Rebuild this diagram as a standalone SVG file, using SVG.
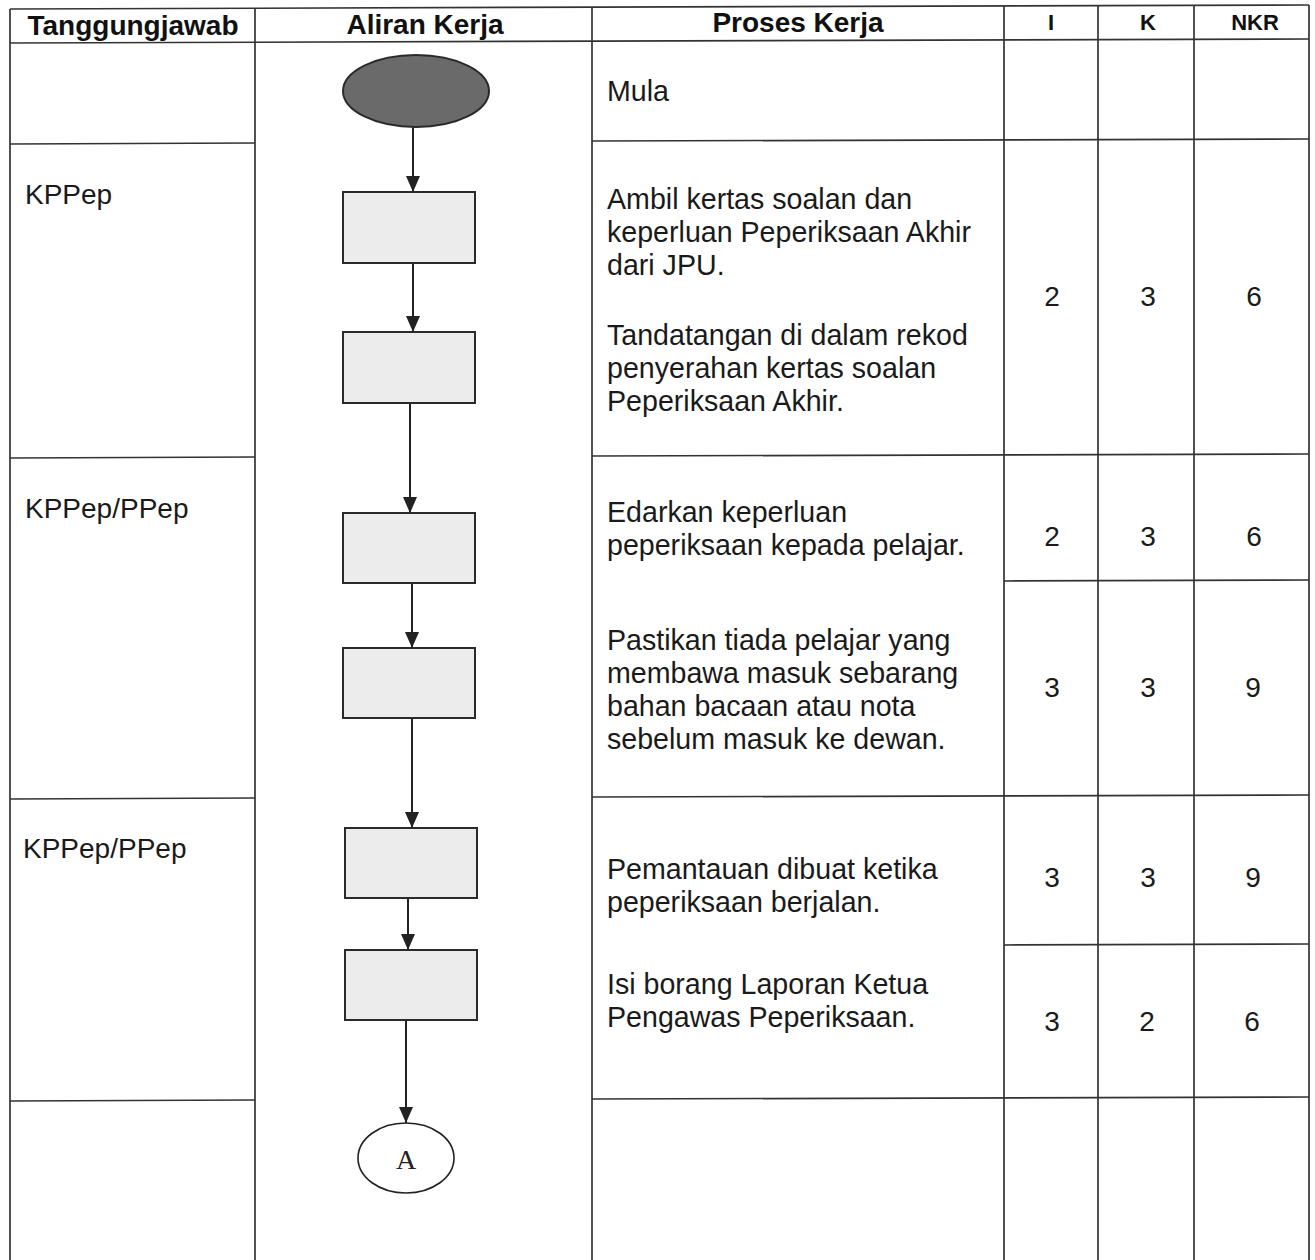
<svg xmlns="http://www.w3.org/2000/svg" width="1315" height="1260" viewBox="0 0 1315 1260">
<defs>
<style>
.grid{stroke:#333;stroke-width:1.7;fill:none}
.hd{font-family:"Liberation Sans",Arial,sans-serif;font-weight:bold;font-size:28px;fill:#111}
.hs{font-family:"Liberation Sans",Arial,sans-serif;font-weight:bold;font-size:22px;fill:#111}
.tx{font-family:"Liberation Sans",Arial,sans-serif;font-size:28px;fill:#1a1a1a}
.px{font-family:"Liberation Sans",Arial,sans-serif;font-size:28.6px;fill:#1a1a1a}
.num{font-family:"Liberation Sans",Arial,sans-serif;font-size:28px;fill:#1a1a1a;text-anchor:middle}
.box{fill:#ececec;stroke:#2a2a2a;stroke-width:2}
.conn{stroke:#222;stroke-width:2;fill:none}
</style>
<marker id="arr" viewBox="0 0 16 14" refX="16" refY="7" markerWidth="16" markerHeight="14" markerUnits="userSpaceOnUse" orient="auto">
<path d="M0,0 L16,7 L0,14 Z" fill="#222"/>
</marker>
</defs>
<rect x="0" y="0" width="1315" height="1260" fill="#ffffff"/>

<g id="table">
<line class="grid" x1="10" y1="9" x2="1309" y2="5"/>
<line class="grid" x1="10" y1="43" x2="1309" y2="39"/>
<line class="grid" x1="10" y1="9" x2="10" y2="1260"/>
<line class="grid" x1="255" y1="8" x2="255" y2="1260"/>
<line class="grid" x1="592" y1="7" x2="592" y2="1260"/>
<line class="grid" x1="1004" y1="6" x2="1004" y2="1260"/>
<line class="grid" x1="1098" y1="6" x2="1098" y2="1260"/>
<line class="grid" x1="1194" y1="5" x2="1194" y2="1260"/>
<line class="grid" x1="1309" y1="5" x2="1309" y2="1260"/>
<line class="grid" x1="10" y1="144" x2="255" y2="143"/>
<line class="grid" x1="10" y1="458" x2="255" y2="457"/>
<line class="grid" x1="10" y1="799" x2="255" y2="798"/>
<line class="grid" x1="10" y1="1101" x2="255" y2="1100"/>
<line class="grid" x1="592" y1="141" x2="1309" y2="139"/>
<line class="grid" x1="592" y1="456" x2="1309" y2="454"/>
<line class="grid" x1="592" y1="797" x2="1309" y2="795"/>
<line class="grid" x1="592" y1="1099" x2="1309" y2="1097"/>
<line class="grid" x1="1004" y1="581" x2="1309" y2="580"/>
<line class="grid" x1="1004" y1="945" x2="1309" y2="944"/>
</g>

<g id="headers">
<text class="hd" x="133" y="35" text-anchor="middle">Tanggungjawab</text>
<text class="hd" x="425" y="34" text-anchor="middle">Aliran Kerja</text>
<text class="hd" x="798" y="32" text-anchor="middle">Proses Kerja</text>
<text class="hs" x="1051" y="30" text-anchor="middle">I</text>
<text class="hs" x="1148" y="30" text-anchor="middle">K</text>
<text class="hs" x="1255" y="30" text-anchor="middle">NKR</text>
</g>

<g id="responsibility">
<text class="tx" x="25" y="204">KPPep</text>
<text class="tx" x="25" y="518">KPPep/PPep</text>
<text class="tx" x="23" y="858">KPPep/PPep</text>
</g>

<g id="process">
<text class="px" x="607" y="101">Mula</text>
<text class="px" x="607" y="209">Ambil kertas soalan dan</text>
<text class="px" x="607" y="242">keperluan Peperiksaan Akhir</text>
<text class="px" x="607" y="275">dari JPU.</text>
<text class="px" x="607" y="345">Tandatangan di dalam rekod</text>
<text class="px" x="607" y="378">penyerahan kertas soalan</text>
<text class="px" x="607" y="411">Peperiksaan Akhir.</text>
<text class="px" x="607" y="522">Edarkan keperluan</text>
<text class="px" x="607" y="555">peperiksaan kepada pelajar.</text>
<text class="px" x="607" y="650">Pastikan tiada pelajar yang</text>
<text class="px" x="607" y="683">membawa masuk sebarang</text>
<text class="px" x="607" y="716">bahan bacaan atau nota</text>
<text class="px" x="607" y="749">sebelum masuk ke dewan.</text>
<text class="px" x="607" y="879">Pemantauan dibuat ketika</text>
<text class="px" x="607" y="912">peperiksaan berjalan.</text>
<text class="px" x="607" y="994">Isi borang Laporan Ketua</text>
<text class="px" x="607" y="1027">Pengawas Peperiksaan.</text>
</g>

<g id="scores">
<text class="num" x="1052" y="306">2</text>
<text class="num" x="1148" y="306">3</text>
<text class="num" x="1254" y="306">6</text>
<text class="num" x="1052" y="546">2</text>
<text class="num" x="1148" y="546">3</text>
<text class="num" x="1254" y="546">6</text>
<text class="num" x="1052" y="697">3</text>
<text class="num" x="1148" y="697">3</text>
<text class="num" x="1253" y="697">9</text>
<text class="num" x="1052" y="887">3</text>
<text class="num" x="1148" y="887">3</text>
<text class="num" x="1253" y="887">9</text>
<text class="num" x="1052" y="1031">3</text>
<text class="num" x="1147" y="1031">2</text>
<text class="num" x="1252" y="1031">6</text>
</g>

<g id="connectors">
<line class="conn" x1="413" y1="127" x2="413" y2="192" marker-end="url(#arr)"/>
<line class="conn" x1="413" y1="263" x2="413" y2="332" marker-end="url(#arr)"/>
<line class="conn" x1="410" y1="403" x2="410" y2="513" marker-end="url(#arr)"/>
<line class="conn" x1="412" y1="583" x2="412" y2="648" marker-end="url(#arr)"/>
<line class="conn" x1="412" y1="718" x2="412" y2="828" marker-end="url(#arr)"/>
<line class="conn" x1="408" y1="898" x2="408" y2="950" marker-end="url(#arr)"/>
<line class="conn" x1="406" y1="1020" x2="406" y2="1123" marker-end="url(#arr)"/>
</g>

<g id="start">
<ellipse cx="416" cy="91" rx="73" ry="36" fill="#6a6a6a" stroke="#2a2a2a" stroke-width="2"/>
</g>
<g id="step1"><rect class="box" x="343" y="192" width="132" height="71"/></g>
<g id="step2"><rect class="box" x="343" y="332" width="132" height="71"/></g>
<g id="step3"><rect class="box" x="343" y="513" width="132" height="70"/></g>
<g id="step4"><rect class="box" x="343" y="648" width="132" height="70"/></g>
<g id="step5"><rect class="box" x="345" y="828" width="132" height="70"/></g>
<g id="step6"><rect class="box" x="345" y="950" width="132" height="70"/></g>
<g id="connectorA">
<ellipse cx="406" cy="1158" rx="48" ry="35" fill="#ffffff" stroke="#222" stroke-width="1.6"/>
<text x="406" y="1169" text-anchor="middle" font-family="'Liberation Serif','Times New Roman',serif" font-size="28" fill="#222">A</text>
</g>
</svg>
